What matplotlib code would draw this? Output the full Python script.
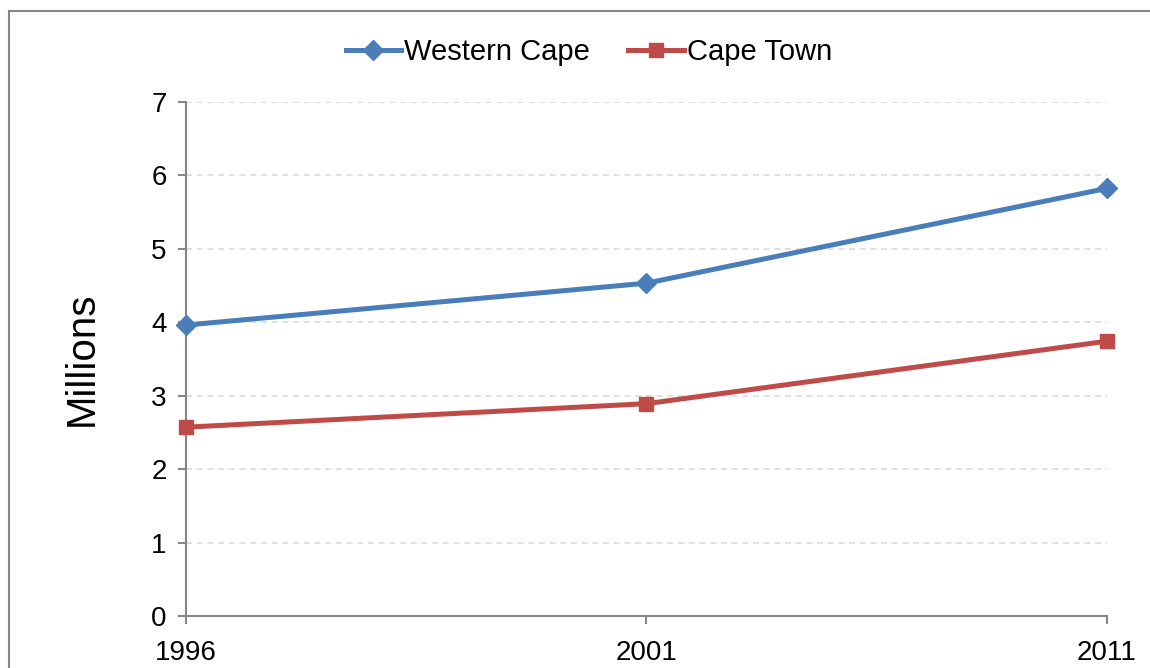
"""
plot.py
================================================================
Población del Western Cape y de Cape Town (censos 1996, 2001, 2011),
en millones de habitantes.

Uso:
    python plot.py   → guarda out.png
================================================================
"""

import matplotlib
matplotlib.use("Agg")
import matplotlib.pyplot as plt  # noqa: E402
from matplotlib.patches import Rectangle  # noqa: E402

# Datos
ANIOS = ["1996", "2001", "2011"]
WESTERN_CAPE = [3.96, 4.53, 5.82]
CAPE_TOWN = [2.57, 2.89, 3.74]
Y_TICKS = [0, 1, 2, 3, 4, 5, 6, 7]

COLOR_AZUL = "#4A7EBB"
COLOR_ROJO = "#BE4B48"
COLOR_EJE = "#868686"
COLOR_GRILLA = "#D9D9D9"

RUTA_SALIDA = "out.png"


def main():
    plt.rcParams["font.family"] = ["Liberation Sans", "DejaVu Sans"]

    fig = plt.figure(figsize=(11.5, 6.68), dpi=100)
    ax = fig.add_axes([0.1617, 0.0778, 0.8009, 0.7700])

    x = list(range(len(ANIOS)))
    ax.plot(x, WESTERN_CAPE, color=COLOR_AZUL, linewidth=3.6, marker="D",
            markersize=10.5, label="Western Cape", clip_on=False, zorder=3)
    ax.plot(x, CAPE_TOWN, color=COLOR_ROJO, linewidth=3.6, marker="s",
            markersize=10.5, label="Cape Town", clip_on=False, zorder=3)

    ax.set_xlim(0, len(ANIOS) - 1)
    ax.set_ylim(0, 7)
    ax.set_xticks(x)
    ax.set_xticklabels(ANIOS)
    ax.set_yticks(Y_TICKS)

    # Grilla punteada gris
    ax.yaxis.grid(True, color=COLOR_GRILLA, linestyle=(0, (4, 3)), linewidth=1.1)
    ax.set_axisbelow(True)

    for lado in ["top", "right"]:
        ax.spines[lado].set_visible(False)
    for lado in ["left", "bottom"]:
        ax.spines[lado].set_color(COLOR_EJE)
        ax.spines[lado].set_linewidth(1.5)

    ax.tick_params(axis="both", colors=COLOR_EJE, labelcolor="black",
                   labelsize=20, length=6, width=1.5, direction="out")
    ax.tick_params(axis="y", pad=8)
    ax.tick_params(axis="x", pad=11)

    ax.set_ylabel("Millions", fontsize=29, va="center")
    ax.yaxis.set_label_coords(-0.113, 0.5)

    ax.legend(loc="center", bbox_to_anchor=(589 / 1150, 1 - 52 / 668),
              bbox_transform=fig.transFigure, ncol=2, frameon=False,
              fontsize=21, handlelength=1.9, handletextpad=0.12,
              columnspacing=1.3, borderaxespad=0)

    # Marco exterior del gráfico (se sale por la derecha y por abajo)
    marco = Rectangle((9 / 1150, -0.1), 1.2, 1.1 - 11 / 668,
                      transform=fig.transFigure, fill=False,
                      edgecolor=COLOR_EJE, linewidth=1.5)
    fig.patches.append(marco)

    fig.savefig(RUTA_SALIDA, dpi=100)
    plt.close(fig)


if __name__ == "__main__":
    main()
